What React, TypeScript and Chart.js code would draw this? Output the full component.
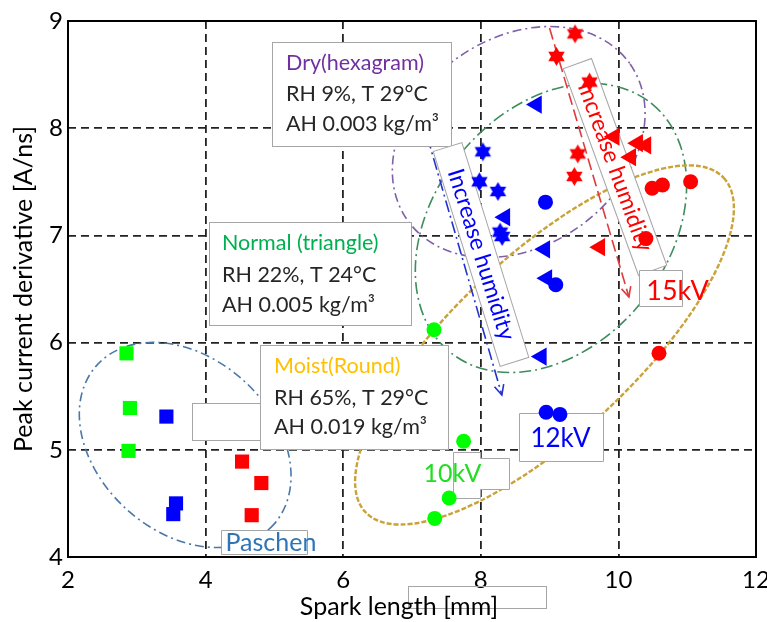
import React, { useEffect, useRef } from "react";
import { Chart, registerables } from "chart.js";
Chart.register(...registerables);

const X_TICKS = [2, 4, 6, 8, 10, 12];
const Y_TICKS = [4, 5, 6, 7, 8, 9];

// Paschen (squares)
const paschenGreenX = [2.85, 2.9, 2.88];
const paschenGreenY = [5.9, 5.39, 4.99];
const paschenBlueX = [3.43, 3.57, 3.53];
const paschenBlueY = [5.31, 4.5, 4.4];
const paschenRedX = [4.53, 4.81, 4.67];
const paschenRedY = [4.89, 4.69, 4.39];

// Dry (hexagram)
const dryBlueX = [8.03, 7.98, 8.25, 8.28, 8.31];
const dryBlueY = [7.78, 7.5, 7.41, 7.03, 6.99];
const dryRedX = [9.37, 9.1, 9.58, 9.41, 9.36];
const dryRedY = [8.88, 8.67, 8.43, 7.76, 7.55];

// Normal (triangle)
const normalBlueX = [8.81, 8.35, 8.93, 8.96, 8.88];
const normalBlueY = [8.22, 7.17, 6.87, 6.6, 5.87];
const normalRedX = [9.94, 10.28, 10.4, 10.18, 9.73];
const normalRedY = [7.92, 7.86, 7.84, 7.73, 6.89];

// Moist (round)
const moistGreenX = [7.32, 7.75, 7.54, 7.33];
const moistGreenY = [6.12, 5.08, 4.55, 4.36];
const moistBlueX = [8.94, 9.09, 8.95, 9.15];
const moistBlueY = [7.31, 6.54, 5.35, 5.33];
const moistRedX = [10.49, 10.64, 11.05, 10.4, 10.59];
const moistRedY = [7.44, 7.47, 7.5, 6.97, 5.9];

const RED = "#ff0000";
const BLUE = "#0000ff";
const GREEN = "#00ff00";
const FONT = "Lato, 'Open Sans', sans-serif";

const ELLIPSES = [
  { x: 8.551, y: 7.871, rx: 136, ry: 104, rot: -35, color: "#7f5fa8", dash: [9, 4, 2, 4], lw: 1.6 },
  { x: 9.02, y: 7.069, rx: 160, ry: 117, rot: -51, color: "#3d8c5c", dash: [12, 4, 2, 4], lw: 1.6 },
  { x: 8.926, y: 5.978, rx: 245, ry: 90, rot: -43, color: "#c9a23a", dash: [5, 2], lw: 2.4 },
  { x: 3.703, y: 5.045, rx: 119, ry: 87, rot: 42, color: "#4a78a8", dash: [9, 4, 2, 4], lw: 1.6 },
];

const ARROWS = [
  { x1: 7.224, y1: 7.918, x2: 8.306, y2: 5.511, color: "#2233cc", dash: [12, 4, 2, 4] },
  { x1: 8.999, y1: 8.935, x2: 10.153, y2: 6.425, color: "#e03a3a", dash: [12, 5] },
];

const INFO_BOXES = [
  {
    x: 4.958, y: 8.804, w: 179, h: 104, tx: 14, ty: [21, 52, 82],
    lines: [["Dry(hexagram)", "#7030a0"], ["RH 9%, T 29\u00b0C", "#262626"], ["AH 0.003 kg/m\u00b3", "#262626"]],
  },
  {
    x: 4.049, y: 7.125, w: 202, h: 103, tx: 13, ty: [21, 53, 83],
    lines: [["Normal (triangle)", "#00b050"], ["RH 22%, T 24\u00b0C", "#262626"], ["AH 0.005 kg/m\u00b3", "#262626"]],
  },
  {
    x: 4.785, y: 5.978, w: 188, h: 104, tx: 14, ty: [21, 53, 82],
    lines: [["Moist(Round)", "#ffc000"], ["RH 65%, T 29\u00b0C", "#262626"], ["AH 0.019 kg/m\u00b3", "#262626"]],
  },
];

const EMPTY_BOXES = [
  { x: 3.804, y: 5.437, w: 68, h: 37 },
];

const ROT_BOXES = [
  { x: 8.003, y: 6.822, angle: 72.7, w: 225, h: 30, text: "Increase humidity", color: BLUE },
  { x: 9.951, y: 7.638, angle: 70, w: 220, h: 30, text: "Increase humidity", color: RED },
];

const LABELS = [
  { x: 4.222, y: 4.252, poly: [[0, 0], [86, 0], [86, 24], [0, 24]], text: "Paschen", color: "#2e75b6", tx: 4, ty: 12, align: "left", size: 25 },
  { x: 8.551, y: 5.343, poly: [[0, 0], [84, 0], [84, 48], [0, 48]], text: "12kV", color: BLUE, tx: 41, ty: 25, align: "center", size: 26 },
  { x: 7.599, y: 4.979, poly: [[0, 0], [27, 0], [27, 6], [56, 6], [56, 37], [27, 37], [27, 46], [0, 46]], text: "10kV", color: "#22dd22", tx: -1, ty: 21, align: "center", size: 25 },
  { x: 10.297, y: 6.677, poly: [[0, 0], [43, 0], [43, 36], [0, 36]], text: "15kV", color: RED, tx: 38, ty: 21, align: "center", size: 27 },
];

function hexagram(color: string, r: number) {
  const size = Math.ceil(r * 2 + 2);
  const c = document.createElement("canvas");
  c.width = size;
  c.height = size;
  const ctx = c.getContext("2d")!;
  ctx.fillStyle = color;
  const cx = size / 2, cy = size / 2;
  for (const off of [0, Math.PI]) {
    ctx.beginPath();
    for (let i = 0; i < 3; i++) {
      const a = off - Math.PI / 2 + (i * 2 * Math.PI) / 3;
      const px = cx + r * Math.cos(a), py = cy + r * Math.sin(a);
      if (i) ctx.lineTo(px, py); else ctx.moveTo(px, py);
    }
    ctx.closePath();
    ctx.fill();
  }
  return c;
}

const zip = (xs: number[], ys: number[]) => xs.map((x, i) => ({ x, y: ys[i] }));

const annotPlugin = {
  id: "annot",
  beforeDatasetsDraw(chart: any) {
    const { ctx, scales } = chart;
    const X = (v: number) => scales.x.getPixelForValue(v);
    const Y = (v: number) => scales.y.getPixelForValue(v);
    ctx.save();
    for (const e of ELLIPSES) {
      ctx.beginPath();
      ctx.setLineDash(e.dash);
      ctx.strokeStyle = e.color;
      ctx.lineWidth = e.lw;
      ctx.ellipse(X(e.x), Y(e.y), e.rx, e.ry, (e.rot * Math.PI) / 180, 0, Math.PI * 2);
      ctx.stroke();
    }
    for (const a of ARROWS) {
      const x1 = X(a.x1), y1 = Y(a.y1), x2 = X(a.x2), y2 = Y(a.y2);
      ctx.setLineDash(a.dash);
      ctx.strokeStyle = a.color;
      ctx.lineWidth = 1.6;
      ctx.beginPath();
      ctx.moveTo(x1, y1);
      ctx.lineTo(x2, y2);
      ctx.stroke();
      ctx.setLineDash([]);
      const ang = Math.atan2(y2 - y1, x2 - x1);
      const L = 11;
      ctx.beginPath();
      ctx.moveTo(x2 + L * Math.cos(ang + Math.PI - 0.45), y2 + L * Math.sin(ang + Math.PI - 0.45));
      ctx.lineTo(x2, y2);
      ctx.lineTo(x2 + L * Math.cos(ang + Math.PI + 0.45), y2 + L * Math.sin(ang + Math.PI + 0.45));
      ctx.stroke();
    }
    ctx.setLineDash([]);
    for (const b of EMPTY_BOXES) {
      const x = Math.round(X(b.x)), y = Math.round(Y(b.y));
      ctx.fillStyle = "#fff";
      ctx.fillRect(x, y, b.w, b.h);
      ctx.strokeStyle = "#a6a6a6";
      ctx.lineWidth = 1;
      ctx.strokeRect(x + 0.5, y + 0.5, b.w, b.h);
    }
    for (const b of INFO_BOXES) {
      const x = Math.round(X(b.x)), y = Math.round(Y(b.y));
      ctx.fillStyle = "#fff";
      ctx.fillRect(x, y, b.w, b.h);
      ctx.strokeStyle = "#a6a6a6";
      ctx.lineWidth = 1;
      ctx.strokeRect(x + 0.5, y + 0.5, b.w, b.h);
      ctx.font = `21.5px ${FONT}`;
      ctx.textAlign = "left";
      ctx.textBaseline = "middle";
      b.lines.forEach(([t, c], i) => {
        ctx.fillStyle = c;
        ctx.fillText(t, x + b.tx, y + b.ty[i]);
      });
    }
    for (const r of ROT_BOXES) {
      ctx.save();
      ctx.translate(X(r.x), Y(r.y));
      ctx.rotate((r.angle * Math.PI) / 180);
      ctx.fillStyle = "#fff";
      ctx.fillRect(-r.w / 2, -r.h / 2, r.w, r.h);
      ctx.strokeStyle = "#a6a6a6";
      ctx.lineWidth = 1;
      ctx.strokeRect(-r.w / 2, -r.h / 2, r.w, r.h);
      ctx.fillStyle = r.color;
      ctx.font = `23px ${FONT}`;
      ctx.textAlign = "center";
      ctx.textBaseline = "middle";
      ctx.fillText(r.text, 0, 0);
      ctx.restore();
    }
    for (const l of LABELS) {
      const x = Math.round(X(l.x)) + 0.5, y = Math.round(Y(l.y)) + 0.5;
      ctx.beginPath();
      l.poly.forEach(([dx, dy], i) => (i ? ctx.lineTo(x + dx, y + dy) : ctx.moveTo(x + dx, y + dy)));
      ctx.closePath();
      ctx.fillStyle = "#fff";
      ctx.fill();
      ctx.strokeStyle = "#a6a6a6";
      ctx.lineWidth = 1;
      ctx.stroke();
      ctx.fillStyle = l.color;
      ctx.font = `${l.size}px ${FONT}`;
      ctx.textAlign = l.align as CanvasTextAlign;
      ctx.textBaseline = "middle";
      ctx.fillText(l.text, x + l.tx, y + l.ty);
    }
    ctx.restore();
  },
  afterDraw(chart: any) {
    const { ctx, chartArea: a, scales } = chart;
    ctx.save();
    ctx.strokeStyle = "#000";
    ctx.lineWidth = 2;
    ctx.setLineDash([]);
    ctx.strokeRect(a.left, a.top, a.right - a.left, a.bottom - a.top);
    const bx = Math.round(scales.x.getPixelForValue(6.935)) + 0.5;
    const by = Math.round(scales.y.getPixelForValue(3.729)) + 0.5;
    ctx.strokeStyle = "#a6a6a6";
    ctx.lineWidth = 1;
    ctx.strokeRect(bx, by, 138, 22);
    ctx.fillStyle = "#000";
    ctx.font = `25px ${FONT}`;
    ctx.textAlign = "center";
    ctx.textBaseline = "middle";
    ctx.fillText("Spark length [mm]", 399, 607);
    ctx.translate(24, (a.top + a.bottom) / 2);
    ctx.rotate(-Math.PI / 2);
    ctx.fillText("Peak current derivative [A/ns]", 0, 0);
    ctx.restore();
  },
};

export default function App() {
  const ref = useRef<HTMLCanvasElement>(null);
  useEffect(() => {
    document.body.style.margin = "0";
    const starRed = hexagram(RED, 9.5);
    const starBlue = hexagram(BLUE, 9.5);
    const sq = { pointStyle: "rect", pointRadius: 10, borderWidth: 0 };
    const ci = { pointStyle: "circle", pointRadius: 7.5, borderWidth: 0 };
    const tr = { pointStyle: "triangle", pointRadius: 10.5, rotation: -90, borderWidth: 0 };
    const ds = (data: any, color: string, style: any) => ({
      data, backgroundColor: color, borderColor: color, showLine: false, ...style,
    });
    const chart = new Chart(ref.current!, {
      type: "scatter",
      data: {
        datasets: [
          ds(zip(moistGreenX, moistGreenY), GREEN, ci),
          ds(zip(moistBlueX, moistBlueY), BLUE, ci),
          ds(zip(moistRedX, moistRedY), RED, ci),
          ds(zip(normalBlueX, normalBlueY), BLUE, tr),
          ds(zip(normalRedX, normalRedY), RED, tr),
          ds(zip(dryBlueX, dryBlueY), BLUE, { pointStyle: starBlue, pointRadius: 10 }),
          ds(zip(dryRedX, dryRedY), RED, { pointStyle: starRed, pointRadius: 10 }),
          ds(zip(paschenGreenX, paschenGreenY), GREEN, sq),
          ds(zip(paschenBlueX, paschenBlueY), BLUE, sq),
          ds(zip(paschenRedX, paschenRedY), RED, sq),
        ] as any,
      },
      options: {
        responsive: false,
        animation: false,
        events: [],
        layout: { padding: { left: 0, top: 21, right: 6, bottom: 0 } },
        plugins: { legend: { display: false }, tooltip: { enabled: false } },
        scales: {
          x: {
            type: "linear",
            min: 2,
            max: 12,
            afterBuildTicks: (s: any) => { s.ticks = X_TICKS.map((v) => ({ value: v })); },
            afterFit: (s: any) => { s.height = 65; s.paddingLeft = 0; s.paddingRight = 0; },
            grid: { color: "#222", lineWidth: 1.8, drawTicks: false },
            border: { display: false, dash: [8, 5] },
            ticks: { padding: 9, color: "#000", font: { family: FONT, size: 24 }, maxRotation: 0 },
          },
          y: {
            type: "linear",
            min: 4,
            max: 9,
            afterBuildTicks: (s: any) => { s.ticks = Y_TICKS.map((v) => ({ value: v })); },
            afterFit: (s: any) => { s.width = 68; s.paddingTop = 0; s.paddingBottom = 0; },
            grid: { color: "#222", lineWidth: 1.8, drawTicks: false },
            border: { display: false, dash: [8, 5] },
            ticks: { padding: 5, color: "#000", font: { family: FONT, size: 24 } },
          },
        },
      } as any,
      plugins: [annotPlugin],
    });
    return () => chart.destroy();
  }, []);
  return <canvas ref={ref} width={767} height={622} style={{ display: "block" }} />;
}
